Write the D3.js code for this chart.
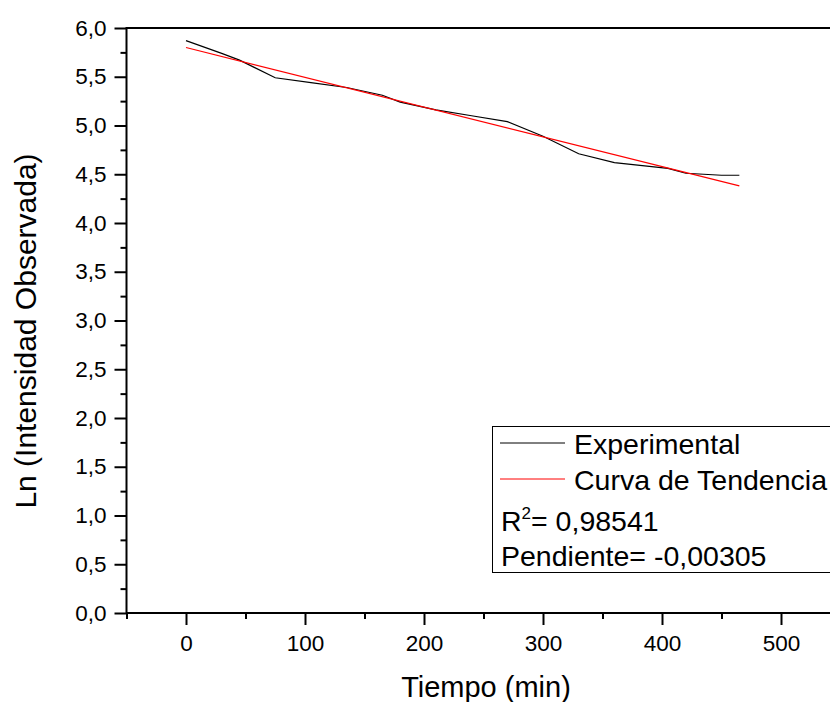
<!DOCTYPE html>
<html>
<head>
<meta charset="utf-8">
<script src="https://cdn.jsdelivr.net/npm/d3@7"></script>
<style>
  body { margin: 0; background: #fff; }
  svg { display: block; font-family: "Liberation Sans", Arial, sans-serif; }
</style>
</head>
<body>
<div id="chart"></div>
<script>
var tiempo = [0, 30, 45, 75, 105, 135, 165, 180, 210, 240, 270, 300, 330, 360, 405, 420, 450, 465];
var lnIntensidad = [5.87, 5.74, 5.67, 5.49, 5.44, 5.39, 5.31, 5.24, 5.16, 5.10, 5.04, 4.89, 4.71, 4.62, 4.56, 4.51, 4.49, 4.49];

// trend line ends
var trendX = [0, 465];
var trendY = [5.80, 4.38];

var xTicks = [0, 100, 200, 300, 400, 500];
var xMinor = [-50, 50, 150, 250, 350, 450, 550];
var yTicks = [0, 0.5, 1, 1.5, 2, 2.5, 3, 3.5, 4, 4.5, 5, 5.5, 6];
var yMinor = [0.25, 0.75, 1.25, 1.75, 2.25, 2.75, 3.25, 3.75, 4.25, 4.75, 5.25, 5.75];

var legendLabels = ["Experimental", "Curva de Tendencia"];
var legendColors = ["#000000", "#ff0000"];
var r2Text = "0,98541";
var slopeText = "-0,00305";

var width = 830, height = 702;

var svg = d3.select("#chart").append("svg")
    .attr("width", width)
    .attr("height", height);

var x = d3.scaleLinear().domain([-50, 550]).range([126.5, 840.5]);
var y = d3.scaleLinear().domain([0, 6]).range([613, 28]);

var esFormat = d3.formatLocale({decimal: ",", thousands: ".", grouping: [3], currency: ["", ""]}).format(".1f");

// left axis, major + minor
var yAxis = svg.append("g")
    .attr("transform", "translate(" + x(-50) + ",0)")
    .call(d3.axisLeft(y).tickValues(yTicks).tickSize(12).tickPadding(8).tickFormat(esFormat));
var yAxisMinor = svg.append("g")
    .attr("transform", "translate(" + x(-50) + ",0)")
    .call(d3.axisLeft(y).tickValues(yMinor).tickSize(6).tickFormat(""));

// bottom axis
var xAxis = svg.append("g")
    .attr("transform", "translate(0," + y(0) + ")")
    .call(d3.axisBottom(x).tickValues(xTicks).tickSize(12).tickPadding(10).tickFormat(d3.format("d")));
var xAxisMinor = svg.append("g")
    .attr("transform", "translate(0," + y(0) + ")")
    .call(d3.axisBottom(x).tickValues(xMinor).tickSize(6).tickFormat(""));

[yAxis, yAxisMinor, xAxis, xAxisMinor].forEach(function(g){
    g.select(".domain").remove();
    g.selectAll(".tick line").attr("stroke", "#000").attr("stroke-width", 2);
    g.selectAll(".tick text").attr("fill", "#000").attr("font-size", 22.5)
        .attr("font-family", "'Liberation Sans', Arial, sans-serif");
});

// frame
svg.append("rect")
    .attr("x", x(-50))
    .attr("y", y(6))
    .attr("width", x(550) - x(-50))
    .attr("height", y(0) - y(6))
    .attr("fill", "none")
    .attr("stroke", "#000")
    .attr("stroke-width", 2);

var line = d3.line()
    .x(function(d){ return x(d[0]); })
    .y(function(d){ return y(d[1]); });

var expData = tiempo.map(function(t, i){ return [t, lnIntensidad[i]]; });
var trendData = trendX.map(function(t, i){ return [t, trendY[i]]; });

svg.append("path")
    .datum(expData)
    .attr("d", line)
    .attr("fill", "none")
    .attr("stroke", legendColors[0])
    .attr("stroke-width", 1.2);

svg.append("path")
    .datum(trendData)
    .attr("d", line)
    .attr("fill", "none")
    .attr("stroke", legendColors[1])
    .attr("stroke-width", 1.2);

// axis titles
svg.append("text")
    .attr("x", 486)
    .attr("y", 697)
    .attr("text-anchor", "middle")
    .attr("font-size", 29)
    .text("Tiempo (min)");

svg.append("text")
    .attr("transform", "translate(36,331) rotate(-90)")
    .attr("text-anchor", "middle")
    .attr("font-size", 30)
    .text("Ln (Intensidad Observada)");

// legend box
var legend = svg.append("g");
legend.append("rect")
    .attr("x", 492.5)
    .attr("y", 426.5)
    .attr("width", 360)
    .attr("height", 146)
    .attr("fill", "#fff")
    .attr("stroke", "#000")
    .attr("stroke-width", 1);

legendLabels.forEach(function(lab, i){
    var ly = 443 + i * 36;
    legend.append("line")
        .attr("x1", 500).attr("x2", 565)
        .attr("y1", ly).attr("y2", ly)
        .attr("stroke", legendColors[i])
        .attr("stroke-width", 1);
    legend.append("text")
        .attr("x", 574)
        .attr("y", ly + 11)
        .attr("font-size", 28.5)
        .text(lab);
});

var r2 = legend.append("text")
    .attr("x", 501)
    .attr("y", 531)
    .attr("font-size", 28.5);
r2.append("tspan").text("R");
r2.append("tspan").attr("font-size", 17).attr("dy", -12).text("2");
r2.append("tspan").attr("dy", 12).text("= " + r2Text);

legend.append("text")
    .attr("x", 501)
    .attr("y", 566)
    .attr("font-size", 28.5)
    .text("Pendiente= " + slopeText);
</script>
</body>
</html>
